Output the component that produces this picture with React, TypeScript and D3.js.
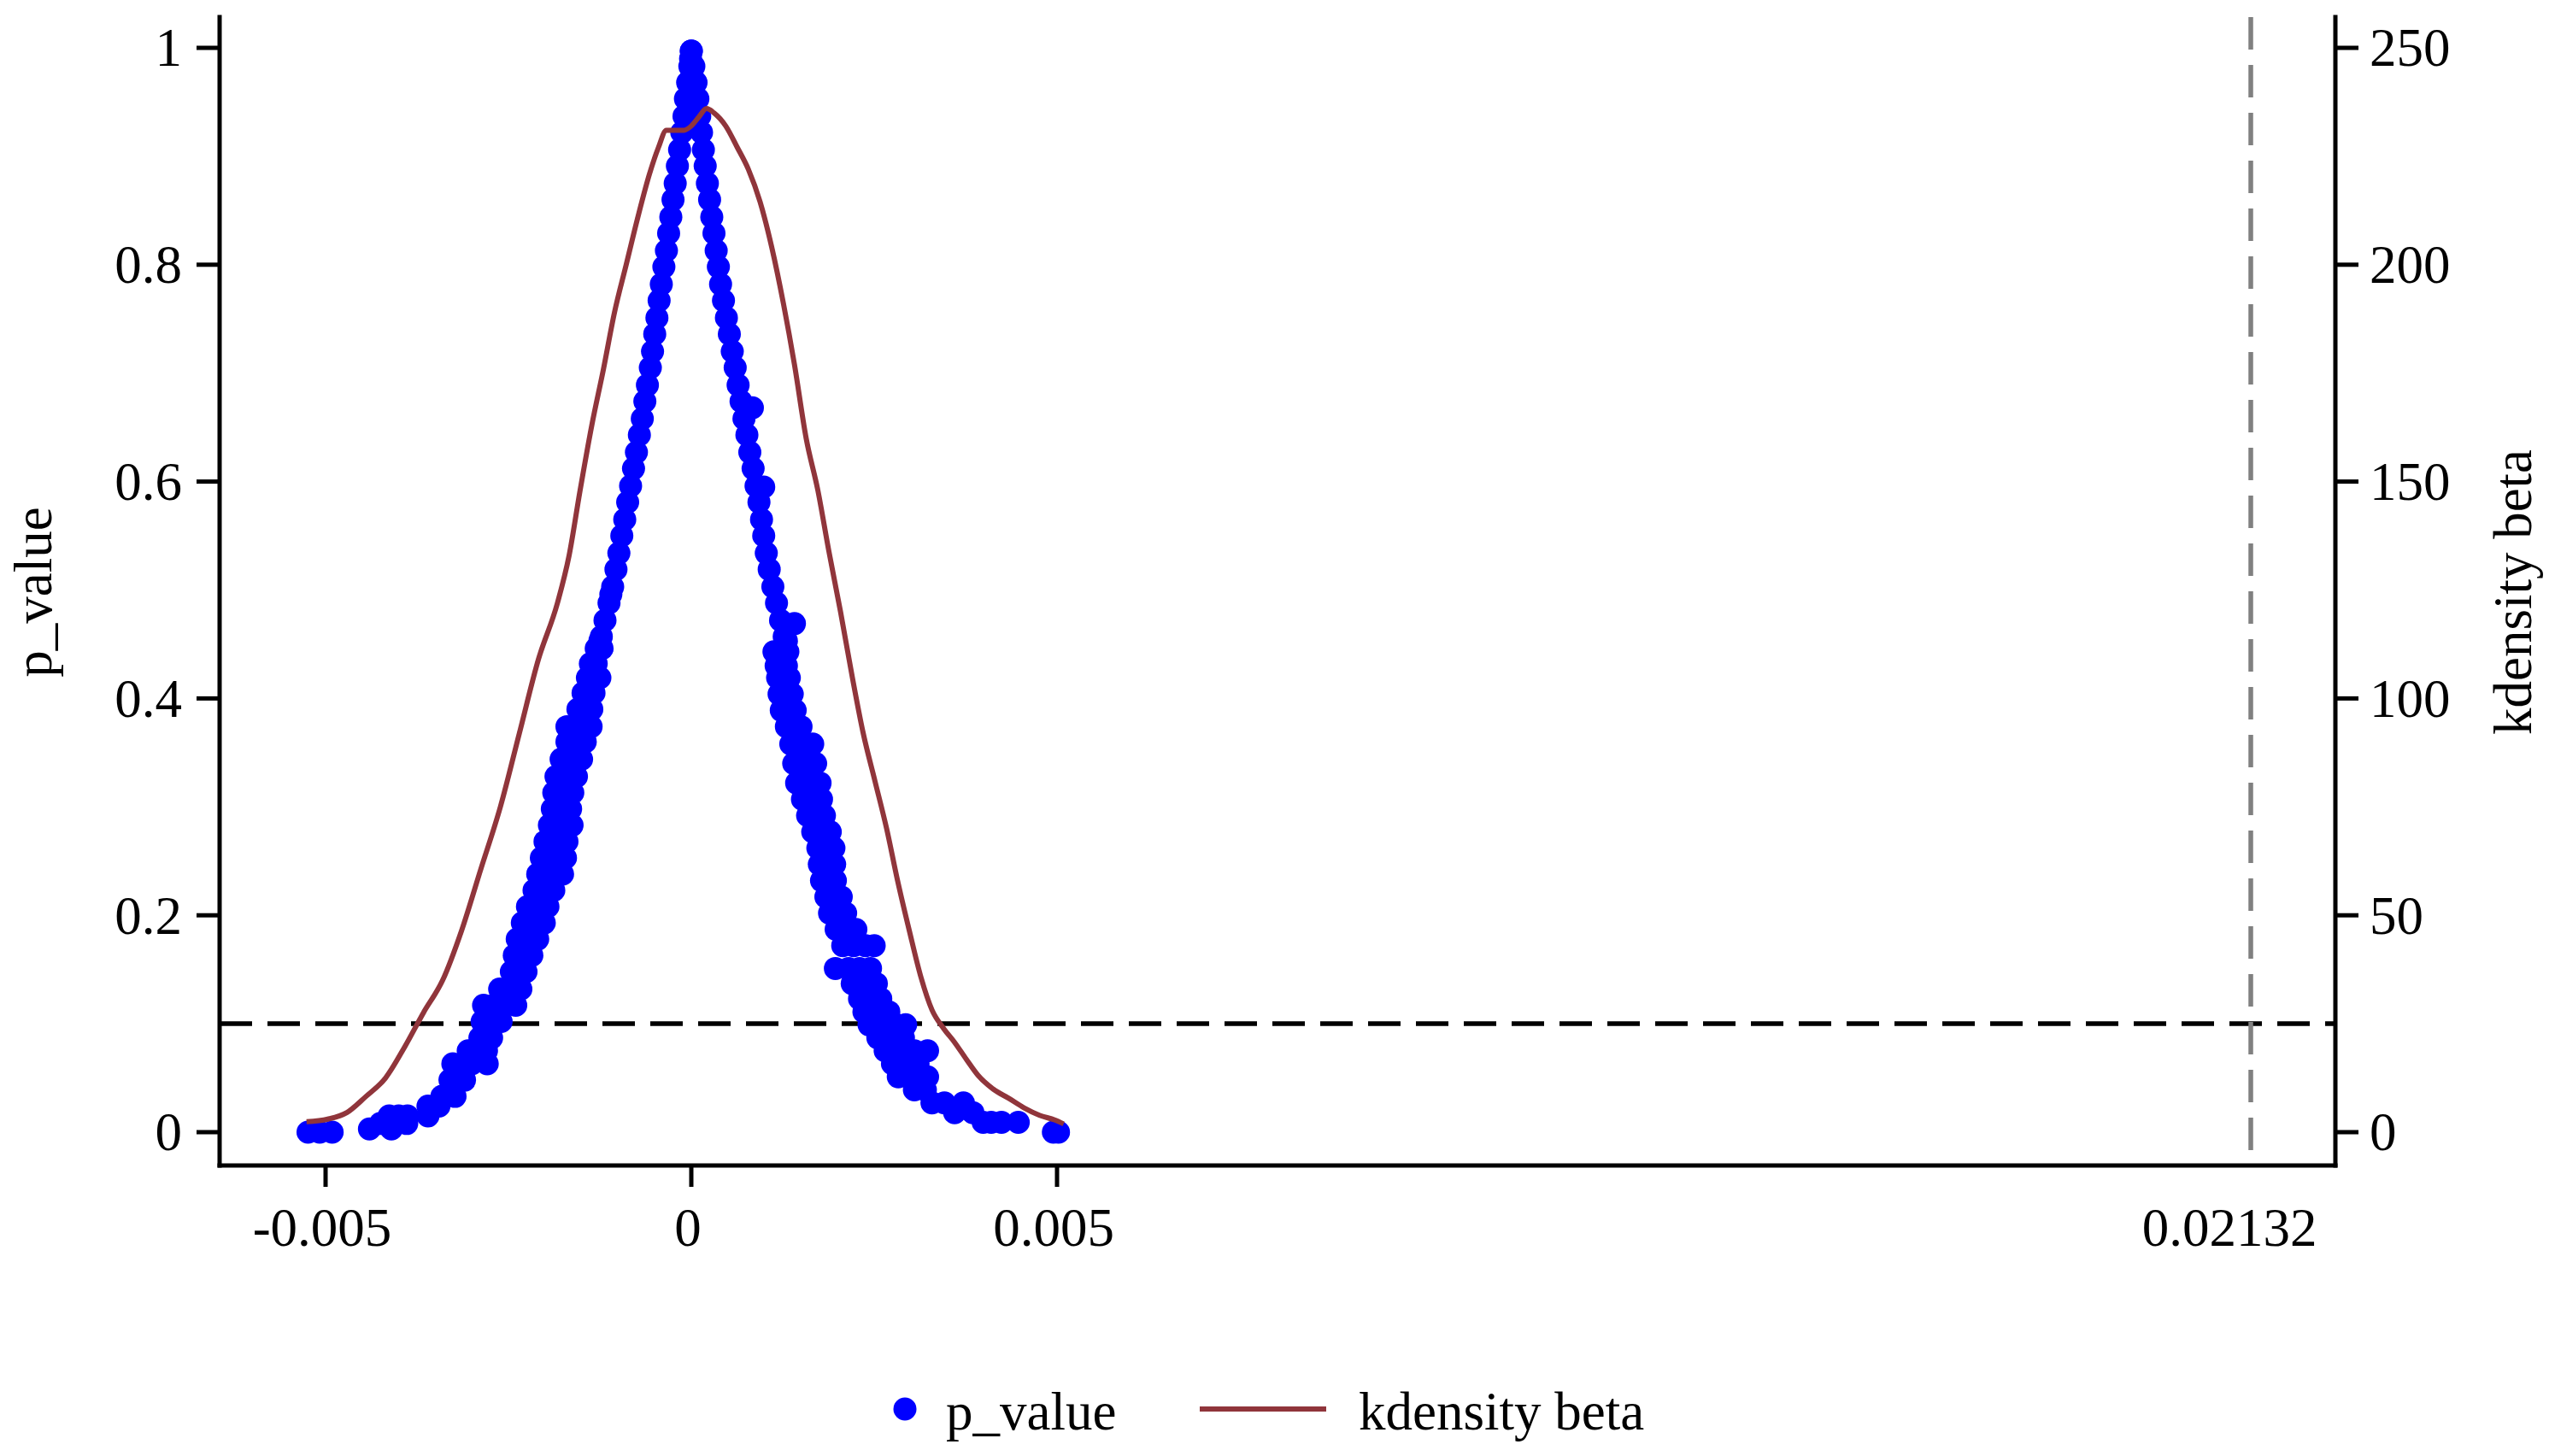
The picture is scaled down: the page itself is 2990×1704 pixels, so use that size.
import * as d3 from "d3";

// beta values are stored in thousandths (×1e-3)
const BETA_UNIT = 1e-3;

// upper part of the scatter: p levels with the left / right branch beta at each level
const pUpper = [
  0.997, 0.983, 0.968, 0.953, 0.937, 0.922, 0.906, 0.891, 0.875, 0.86, 0.844, 0.829, 0.813, 0.798, 0.782, 0.767, 0.751,
  0.736, 0.72, 0.705, 0.689, 0.674, 0.658, 0.643, 0.627, 0.612, 0.596, 0.581, 0.565, 0.55, 0.534, 0.519, 0.503, 0.488,
  0.472, 0.457,
];
const leftUpper = [
  0, -0.02, -0.05, -0.08, -0.1, -0.13, -0.16, -0.19, -0.22, -0.25, -0.28, -0.31, -0.34, -0.375, -0.41, -0.44, -0.47, -0.5,
  -0.53, -0.56, -0.6, -0.635, -0.67, -0.71, -0.75, -0.79, -0.83, -0.87, -0.91, -0.95, -0.99, -1.03, -1.075, -1.125, -1.18,
  -1.23,
];
const rightUpper = [
  0, 0.035, 0.065, 0.09, 0.115, 0.14, 0.165, 0.19, 0.22, 0.25, 0.28, 0.31, 0.34, 0.37, 0.4, 0.44, 0.48, 0.52, 0.56, 0.6,
  0.64, 0.68, 0.72, 0.76, 0.8, 0.845, 0.885, 0.925, 0.96, 0.99, 1.025, 1.065, 1.115, 1.165, 1.22, 1.27,
];
// a few points sticking out of the upper band
const upperExtra: [number, number][] = [
  [0.835, 0.668], [0.99, 0.595], [1.41, 0.469], [1.3, 0.453], [-1.1, 0.496], [-1.25, 0.453], [-0.01, 0.99], [0.01, 0.975],
];

// lower left branch: [beta, p]
const leftLower: [number, number][] = [
  [-1.22, 0.446], [-1.3, 0.446], [-1.3, 0.432], [-1.38, 0.432], [-1.42, 0.419], [-1.25, 0.419], [-1.33, 0.419],
  [-1.48, 0.405], [-1.33, 0.405], [-1.55, 0.39], [-1.36, 0.39], [-1.7, 0.374], [-1.37, 0.374], [-1.52, 0.374],
  [-1.7, 0.36], [-1.45, 0.36], [-1.58, 0.36], [-1.78, 0.344], [-1.5, 0.344], [-1.64, 0.344], [-1.85, 0.328],
  [-1.57, 0.328], [-1.7, 0.328], [-1.88, 0.313], [-1.62, 0.313], [-1.75, 0.313], [-1.9, 0.298], [-1.65, 0.298],
  [-1.78, 0.298], [-1.94, 0.283], [-1.63, 0.283], [-1.8, 0.283], [-2.0, 0.268], [-1.7, 0.268], [-1.85, 0.268],
  [-2.05, 0.253], [-1.72, 0.253], [-1.9, 0.253], [-2.1, 0.238], [-1.76, 0.238], [-1.95, 0.238], [-2.15, 0.223],
  [-1.88, 0.223], [-2.02, 0.223], [-2.24, 0.208], [-1.96, 0.208], [-2.1, 0.208], [-2.31, 0.193], [-2.01, 0.193],
  [-2.16, 0.193], [-2.38, 0.178], [-2.1, 0.178], [-2.24, 0.178], [-2.42, 0.163], [-2.18, 0.163], [-2.3, 0.163],
  [-2.46, 0.148], [-2.26, 0.148], [-2.36, 0.148], [-2.62, 0.132], [-2.33, 0.132], [-2.48, 0.132], [-2.84, 0.117],
  [-2.4, 0.117], [-2.55, 0.117], [-2.7, 0.117], [-2.86, 0.102], [-2.6, 0.102], [-2.73, 0.102], [-2.89, 0.087],
  [-2.73, 0.087], [-3.05, 0.075], [-2.8, 0.075], [-2.92, 0.075], [-3.26, 0.063], [-2.79, 0.063], [-3.0, 0.063],
  [-3.12, 0.063], [-3.3, 0.048], [-3.1, 0.048], [-3.2, 0.048], [-3.41, 0.033], [-3.23, 0.033], [-3.6, 0.024],
  [-3.45, 0.024], [-4.13, 0.015], [-3.6, 0.015], [-3.88, 0.015], [-4.0, 0.015], [-3.89, 0.008], [-4.25, 0.008],
  [-4.4, 0.003], [-4.1, 0.003], [-5.24, 0], [-5.08, 0], [-4.91, 0],
];

// lower right branch: [beta, p]
const rightLower: [number, number][] = [
  [1.13, 0.443], [1.22, 0.443], [1.32, 0.443], [1.16, 0.43], [1.3, 0.43], [1.18, 0.419], [1.26, 0.419], [1.34, 0.419],
  [1.2, 0.404], [1.38, 0.404], [1.23, 0.389], [1.32, 0.389], [1.42, 0.389], [1.3, 0.374], [1.5, 0.374], [1.36, 0.358],
  [1.5, 0.358], [1.66, 0.358], [1.4, 0.34], [1.58, 0.34], [1.7, 0.34], [1.44, 0.322], [1.6, 0.322], [1.76, 0.322],
  [1.52, 0.307], [1.66, 0.307], [1.78, 0.307], [1.59, 0.292], [1.72, 0.292], [1.82, 0.292], [1.66, 0.277],
  [1.8, 0.277], [1.9, 0.277], [1.73, 0.262], [1.84, 0.262], [1.95, 0.262], [1.75, 0.247], [1.87, 0.247],
  [1.96, 0.247], [1.78, 0.232], [1.88, 0.232], [1.97, 0.232], [1.84, 0.217], [1.95, 0.217], [2.05, 0.217],
  [1.89, 0.202], [2.0, 0.202], [2.11, 0.202], [1.98, 0.187], [2.12, 0.187], [2.25, 0.187], [2.07, 0.172],
  [2.22, 0.172], [2.38, 0.172], [2.5, 0.172], [1.97, 0.151], [2.15, 0.151], [2.3, 0.151], [2.45, 0.151],
  [2.2, 0.137], [2.38, 0.137], [2.53, 0.137], [2.3, 0.123], [2.45, 0.123], [2.59, 0.123], [2.36, 0.111],
  [2.52, 0.111], [2.7, 0.111], [2.43, 0.099], [2.62, 0.099], [2.8, 0.099], [2.93, 0.099], [2.55, 0.087],
  [2.75, 0.087], [2.9, 0.087], [2.65, 0.075], [2.85, 0.075], [3.05, 0.075], [3.23, 0.075], [2.75, 0.063],
  [2.95, 0.063], [3.1, 0.063], [2.83, 0.051], [3.0, 0.051], [3.23, 0.051], [3.05, 0.039], [3.2, 0.039],
  [3.29, 0.027], [3.46, 0.027], [3.72, 0.027], [3.6, 0.018], [3.85, 0.018], [3.99, 0.009], [4.1, 0.009],
  [4.24, 0.009], [4.47, 0.009], [4.95, 0], [5.02, 0],
];

// kernel density of beta: [beta, density]
const kdensity: [number, number][] = [
  [-5.26, 2.4], [-4.97, 3.0], [-4.71, 4.5], [-4.45, 8.2], [-4.18, 12.5], [-3.92, 19.6], [-3.66, 27.6], [-3.4, 35],
  [-3.14, 46.5], [-2.88, 60.5], [-2.61, 75], [-2.35, 92], [-2.09, 109], [-1.83, 122], [-1.67, 133], [-1.52, 148],
  [-1.36, 163], [-1.2, 176], [-1.05, 189], [-0.89, 200], [-0.73, 211], [-0.57, 221], [-0.45, 227], [-0.34, 231],
  [-0.21, 231], [-0.1, 231], [0, 232], [0.1, 234], [0.21, 236], [0.31, 235], [0.47, 232], [0.63, 227], [0.78, 222],
  [0.94, 214.5], [1.1, 204], [1.26, 191], [1.41, 177], [1.57, 160], [1.73, 148], [1.88, 134], [2.04, 120],
  [2.2, 105], [2.35, 92], [2.51, 81], [2.67, 70], [2.82, 58], [2.98, 46.5], [3.14, 35.7], [3.29, 28.2], [3.45, 23.9],
  [3.6, 20.7], [3.76, 16.8], [3.92, 13.1], [4.13, 9.9], [4.34, 7.8], [4.55, 5.6], [4.76, 3.9], [4.97, 2.8],
  [5.09, 1.9],
];

const xTicks = [-0.005, 0, 0.005];
const xTickLabels = ["-0.005", "0", "0.005"];
const xLineValue = 0.02132;
const yTicks = [0, 0.2, 0.4, 0.6, 0.8, 1];
const yTickLabels = ["0", "0.2", "0.4", "0.6", "0.8", "1"];
const yRightTicks = [0, 50, 100, 150, 200, 250];
const pThreshold = 0.1;

const W = 2990;
const H = 1704;
const AX_L = 257;
const AX_R = 2733;
const AX_B = 1364;
const AX_T = 20;
const FONT = "'Liberation Serif', 'Times New Roman', serif";
const FS = 63;
const BLUE = "#0000ff";
const CRANBERRY = "#90353b";
const R = 13.5;

const x = d3.scaleLinear().domain([0, xLineValue]).range([809, 2634]);
const y = d3.scaleLinear().domain([0, 1]).range([1325, 56]);
const yR = d3.scaleLinear().domain([0, 250]).range([1325, 56]);

const points: [number, number][] = [
  ...pUpper.map((p, i) => [leftUpper[i], p] as [number, number]),
  ...pUpper.map((p, i) => [rightUpper[i], p] as [number, number]),
  ...upperExtra,
  ...leftLower,
  ...rightLower,
];

const densityLine = d3
  .line<[number, number]>()
  .x((d) => x(d[0] * BETA_UNIT))
  .y((d) => yR(d[1]))
  .curve(d3.curveMonotoneX);

export default function App() {
  return (
    <svg
      width={W}
      height={H}
      viewBox={`0 0 ${W} ${H}`}
      style={{ position: "absolute", left: 0, top: 0, background: "#fff", fontFamily: FONT }}
    >
      <rect x={0} y={0} width={W} height={H} fill="#fff" />

      {/* reference lines */}
      <line x1={AX_L} x2={AX_R} y1={y(pThreshold)} y2={y(pThreshold)} stroke="#000" strokeWidth={5.5} strokeDasharray="38 18" />
      <line x1={x(xLineValue)} x2={x(xLineValue)} y1={AX_T} y2={AX_B} stroke="#808080" strokeWidth={5.5} strokeDasharray="38 18" />

      {/* scatter of p values */}
      <g fill={BLUE}>
        {points.map((d, i) => (
          <circle key={i} cx={x(d[0] * BETA_UNIT)} cy={y(d[1])} r={R} />
        ))}
      </g>

      {/* kdensity */}
      <path d={densityLine(kdensity) ?? ""} fill="none" stroke={CRANBERRY} strokeWidth={6} strokeLinejoin="round" />

      {/* axes */}
      <g stroke="#000" strokeWidth={5} strokeLinecap="square">
        <line x1={AX_L} x2={AX_L} y1={AX_T} y2={AX_B} />
        <line x1={AX_R} x2={AX_R} y1={AX_T} y2={AX_B} />
        <line x1={AX_L} x2={AX_R} y1={AX_B} y2={AX_B} />
      </g>
      <g stroke="#000" strokeWidth={5}>
        {yTicks.map((t) => (
          <line key={`yl${t}`} x1={AX_L - 27} x2={AX_L} y1={y(t)} y2={y(t)} />
        ))}
        {yRightTicks.map((t) => (
          <line key={`yr${t}`} x1={AX_R} x2={AX_R + 27} y1={yR(t)} y2={yR(t)} />
        ))}
        {xTicks.map((t) => (
          <line key={`x${t}`} x1={x(t)} x2={x(t)} y1={AX_B} y2={AX_B + 25} />
        ))}
      </g>
      <g fontSize={FS} fill="#000">
        {yTicks.map((t, i) => (
          <text key={`yl${t}`} x={213} y={y(t)} dy="0.34em" textAnchor="end">
            {yTickLabels[i]}
          </text>
        ))}
        {yRightTicks.map((t) => (
          <text key={`yr${t}`} x={AX_R + 40} y={yR(t)} dy="0.34em" textAnchor="start">
            {t}
          </text>
        ))}
        {xTicks.map((t, i) => (
          <text key={`x${t}`} x={x(t) - 4} y={1458} textAnchor="middle">
            {xTickLabels[i]}
          </text>
        ))}
        <text x={x(xLineValue) - 25} y={1458} textAnchor="middle">
          {xLineValue}
        </text>
        <text transform={`translate(60, 693) rotate(-90)`} textAnchor="middle">
          p_value
        </text>
        <text transform={`translate(2962, 693) rotate(-90)`} textAnchor="middle">
          kdensity beta
        </text>
      </g>

      {/* legend */}
      <g fontSize={FS} fill="#000">
        <circle cx={1059} cy={1649} r={R} fill={BLUE} />
        <text x={1107} y={1673}>p_value</text>
        <line x1={1404} x2={1552} y1={1649} y2={1649} stroke={CRANBERRY} strokeWidth={6} />
        <text x={1590} y={1673}>kdensity beta</text>
      </g>
    </svg>
  );
}
